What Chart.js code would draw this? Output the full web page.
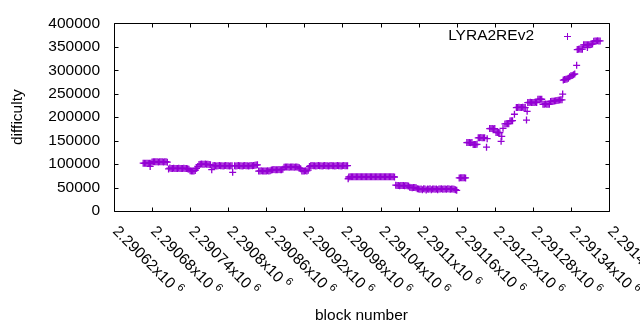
<!DOCTYPE html>
<html>
<head>
<meta charset="utf-8">
<script src="https://cdn.jsdelivr.net/npm/chart.js@4.4.1/dist/chart.umd.min.js"></script>
<style>
  html, body { margin: 0; padding: 0; background: #fff; }
</style>
</head>
<body>
<canvas id="difficultyChart" width="640" height="330"></canvas>
<script>
// block numbers and difficulty
const blocks = [
  2290666, 2290668, 2290670, 2290672, 2290674, 2290676, 2290677, 2290678,
  2290680, 2290682, 2290684, 2290686, 2290688, 2290690, 2290692, 2290694, 2290696, 2290698, 2290700, 2290702, 2290704,
  2290706,
  2290708, 2290710, 2290712, 2290714, 2290716, 2290718, 2290720, 2290722, 2290724, 2290726, 2290728, 2290730, 2290732, 2290734, 2290736, 2290738,
  2290740, 2290742, 2290744, 2290746, 2290748, 2290750, 2290752,
  2290754, 2290756, 2290758, 2290760, 2290762, 2290764, 2290766, 2290768, 2290770, 2290772, 2290774,
  2290776, 2290778, 2290780, 2290782, 2290784, 2290786, 2290788, 2290790, 2290792, 2290794, 2290796, 2290798, 2290800, 2290802, 2290804, 2290806, 2290807,
  2290810, 2290812, 2290814, 2290816, 2290818, 2290820, 2290822, 2290824, 2290826, 2290828, 2290830, 2290832, 2290834, 2290836, 2290838, 2290840, 2290842, 2290844, 2290846,
  2290848, 2290850, 2290852, 2290854, 2290856, 2290858, 2290860, 2290862, 2290864, 2290866,
  2290868, 2290870, 2290872, 2290874, 2290876, 2290878, 2290880, 2290882, 2290884, 2290886,
  2290888, 2290890, 2290892, 2290894, 2290896, 2290898, 2290900, 2290902, 2290904, 2290906, 2290908, 2290910, 2290912, 2290914,
  2290916, 2290918, 2290920, 2290922, 2290924, 2290926,
  2290928, 2290930, 2290932, 2290934, 2290936, 2290938, 2290940, 2290942, 2290944, 2290946, 2290948, 2290950, 2290952, 2290954, 2290956, 2290958,
  2290960, 2290962, 2290964, 2290966, 2290968, 2290970, 2290972, 2290974, 2290976, 2290978, 2290980, 2290982, 2290984, 2290986, 2290988,
  2290989,
  2290990, 2290992, 2290994, 2290996, 2290998, 2291000, 2291002, 2291004, 2291006, 2291008, 2291010, 2291012, 2291014, 2291016, 2291018, 2291020, 2291022, 2291024,
  2291026, 2291028, 2291030, 2291032, 2291034, 2291036, 2291038, 2291040, 2291042, 2291044, 2291046, 2291048, 2291050, 2291052, 2291054, 2291056, 2291058, 2291060, 2291062,
  2291064, 2291066, 2291068, 2291070, 2291072, 2291074, 2291076, 2291078, 2291080, 2291082, 2291084,
  2291086, 2291088, 2291090, 2291092, 2291094, 2291096,
  2291098, 2291100, 2291102, 2291104, 2291106, 2291108, 2291110, 2291112, 2291114, 2291116, 2291118, 2291120, 2291122, 2291124, 2291126, 2291128,
  2291130, 2291132, 2291134, 2291136, 2291138, 2291140, 2291142, 2291144, 2291146, 2291148, 2291150, 2291152, 2291154, 2291156, 2291158, 2291160,
  2291164, 2291166, 2291168, 2291170, 2291172, 2291174,
  2291176, 2291178, 2291180, 2291182, 2291184,
  2291186, 2291188, 2291190, 2291192,
  2291194, 2291196, 2291198, 2291200, 2291202, 2291204,
  2291207, 2291208,
  2291212, 2291214, 2291216, 2291218, 2291220,
  2291222, 2291224, 2291226, 2291228,
  2291230, 2291231, 2291233,
  2291236, 2291238, 2291240, 2291242,
  2291244, 2291246, 2291248,
  2291251,
  2291254, 2291256, 2291258, 2291260, 2291262, 2291264, 2291266, 2291268,
  2291270, 2291271,
  2291272, 2291274, 2291276, 2291278, 2291280, 2291282, 2291284, 2291286,
  2291288, 2291290, 2291292, 2291294,
  2291296, 2291298, 2291300, 2291302, 2291304, 2291306,
  2291308, 2291310, 2291312, 2291314, 2291316, 2291318, 2291320, 2291322, 2291324, 2291326,
  2291327,
  2291328, 2291330, 2291332, 2291334, 2291336, 2291338, 2291340, 2291342, 2291344, 2291346,
  2291349,
  2291350, 2291352, 2291354, 2291356, 2291358,
  2291360, 2291362, 2291364, 2291366, 2291366, 2291368, 2291370, 2291372, 2291374,
  2291376, 2291378, 2291380, 2291382, 2291384, 2291386
];

const difficulty = [
  102000, 101500, 102000, 102000, 101500, 102000, 95000, 102000,
  104500, 105000, 104800, 104800, 105000, 104500, 104800, 105000, 104800, 104500, 104800, 105000, 104000,
  89600,
  91500, 90500, 90800, 91000, 90800, 90500, 90800, 91000, 90500, 90800, 90800, 91000, 90500, 90800, 90000, 89000,
  86000, 85400, 85000, 85400, 86500, 91000, 95000,
  99000, 99500, 100000, 99500, 99500, 100000, 99500, 99500, 99000, 98500, 88100,
  96500, 96800, 96500, 96000, 96500, 96800, 96500, 96500, 96000, 96500, 96800, 96500, 96500, 96000, 96500, 96500, 82500,
  96500, 96000, 96500, 96800, 96500, 96500, 96000, 96500, 96800, 96500, 96500, 96000, 96500, 96800, 96500, 97000, 97500, 98000, 98500,
  85000, 85400, 85800, 85400, 85000, 85400, 85400, 85800, 85400, 86000,
  87500, 88100, 88500, 88100, 87800, 88100, 88500, 88100, 88000, 89000,
  93000, 93700, 94000, 93700, 93500, 93700, 94000, 93700, 93500, 93700, 94000, 93500, 92000, 90000,
  85400, 85000, 85400, 85800, 85400, 87000,
  95000, 96500, 96800, 96500, 96500, 96000, 96500, 96800, 96500, 96500, 96000, 96500, 96800, 96500, 96500, 96000,
  96500, 96800, 96500, 96500, 96000, 96500, 96800, 96500, 96500, 96000, 96500, 96800, 96500, 96500, 96500,
  68700,
  72500, 73000, 73200, 73000, 72800, 73000, 73200, 73000, 73000, 72800, 73000, 73200, 73000, 72800, 73000, 73200, 73000, 73000,
  73200, 73000, 72800, 73000, 73200, 73000, 73000, 72800, 73000, 73200, 73000, 72800, 73000, 73200, 73000, 73000, 73200, 73000, 72500,
  55000, 54500, 54200, 54000, 54200, 54500, 54200, 54000, 54200, 54000, 53500,
  50500, 50000, 49800, 50000, 50200, 49500,
  47500, 47000, 46500, 47000, 45500, 47200, 46800, 45000, 47000, 46500, 47200, 45200, 46800, 47000, 46500, 47000,
  45500, 47000, 46800, 47200, 46500, 47000, 46800, 46500, 47200, 47000, 46500, 46800, 47000, 46200, 45500, 44000,
  70500, 70800, 71000, 70800, 70800, 70500,
  145800, 146000, 145800, 145500, 145800,
  141700, 141500, 141700, 142000,
  156000, 156200, 156500, 156200, 156000, 156200,
  136000, 154200,
  175600, 175800, 175600, 175400, 175600,
  167300, 167500, 167300, 167000,
  148500, 159000, 176200,
  185500, 186000, 186200, 186000,
  192000, 192300, 192500,
  206200,
  220500, 220800, 221000, 220800, 220800, 221000, 220800, 220500,
  193700, 212500,
  231000, 231200, 231500, 231200, 231000, 231200, 231500, 231200,
  238000, 238100, 238300, 238100,
  227500, 227700, 228000, 227700, 227500, 227700,
  233500, 234000, 234000, 234500, 235000, 235500, 236000, 236500, 237000, 237000,
  249200,
  279000, 280000, 281000, 281500, 283000, 286000, 288000, 289000, 290500, 292000,
  310400,
  344000, 344500, 345000, 344500, 344800,
  354200, 354200, 354500, 354200, 348500, 354500, 354200, 355000, 356000,
  362000, 362500, 362500, 363000, 362500, 362500
];

const seriesName = 'LYRA2REv2';
const xTicks = [2290620, 2290680, 2290740, 2290800, 2290860, 2290920, 2290980,
                2291040, 2291100, 2291160, 2291220, 2291280, 2291340, 2291400];
const xTickLabels = ['2.29062', '2.29068', '2.29074', '2.2908', '2.29086', '2.29092', '2.29098',
                     '2.29104', '2.2911', '2.29116', '2.29122', '2.29128', '2.29134', '2.2914'];
const xExponent = '6';
const yTicks = [0, 50000, 100000, 150000, 200000, 250000, 300000, 350000, 400000];

const purple = '#9400d3';
const fontFamily = '"Liberation Sans", Arial, sans-serif';
const fontSize = 15.5;
const tickLen = 4;

// gnuplot style frame: border box, inward mirrored ticks, rotated x labels, key
const framePlugin = {
    id: 'frame',
    afterDraw(chart) {
        const { ctx, chartArea: a, scales: { x, y } } = chart;
        const left = Math.round(a.left) + 0.5;
        const right = Math.round(a.right) + 0.5;
        const top = Math.round(a.top) + 0.5;
        const bottom = Math.round(a.bottom) + 0.5;

        ctx.save();
        ctx.strokeStyle = '#000';
        ctx.lineWidth = 1;
        ctx.beginPath();
        ctx.rect(left, top, right - left, bottom - top);
        xTicks.forEach(v => {
            const px = Math.round(x.getPixelForValue(v)) + 0.5;
            ctx.moveTo(px, bottom); ctx.lineTo(px, bottom - tickLen);
            ctx.moveTo(px, top); ctx.lineTo(px, top + tickLen);
        });
        yTicks.forEach(v => {
            const py = Math.round(y.getPixelForValue(v)) + 0.5;
            ctx.moveTo(left, py); ctx.lineTo(left + tickLen, py);
            ctx.moveTo(right, py); ctx.lineTo(right - tickLen, py);
        });
        ctx.stroke();

        // x tick labels, rotated down to the right
        ctx.fillStyle = '#000';
        ctx.textAlign = 'left';
        ctx.textBaseline = 'middle';
        xTicks.forEach((v, i) => {
            const px = x.getPixelForValue(v);
            ctx.save();
            ctx.translate(px + 1, a.bottom + 18);
            ctx.rotate(Math.PI / 4);
            ctx.font = fontSize + 'px ' + fontFamily;
            const text = xTickLabels[i] + 'x10';
            ctx.fillText(text, 0, 0);
            const w = ctx.measureText(text).width;
            ctx.font = '11px ' + fontFamily;
            ctx.fillText(xExponent, w + 4, -5);
            ctx.restore();
        });

        // key
        ctx.font = fontSize + 'px ' + fontFamily;
        ctx.textAlign = 'right';
        ctx.fillText(seriesName, a.right - 75, a.top + 12.5);
        const kx = Math.round(a.right - 42) + 0.5;
        const ky = Math.round(a.top + 13) + 0.5;
        ctx.strokeStyle = purple;
        ctx.beginPath();
        ctx.moveTo(kx - 3.5, ky); ctx.lineTo(kx + 3.5, ky);
        ctx.moveTo(kx, ky - 3.5); ctx.lineTo(kx, ky + 3.5);
        ctx.stroke();
        ctx.restore();
    }
};

const ctx = document.getElementById('difficultyChart').getContext('2d');
new Chart(ctx, {
    type: 'scatter',
    data: {
        datasets: [{
            label: seriesName,
            data: blocks.map((b, i) => ({ x: b, y: difficulty[i] })),
            pointStyle: 'cross',
            pointRadius: 3.5,
            pointHoverRadius: 3.5,
            borderWidth: 1.3,
            borderColor: purple,
            backgroundColor: purple
        }]
    },
    options: {
        responsive: false,
        animation: false,
        events: [],
        layout: { padding: { top: 19, right: 31, left: 0, bottom: 0 } },
        plugins: {
            legend: { display: false },
            tooltip: { enabled: false }
        },
        scales: {
            x: {
                type: 'linear',
                min: 2290620,
                max: 2291400,
                grid: { display: false, drawTicks: false },
                border: { display: false },
                ticks: { display: false },
                title: {
                    display: true,
                    text: 'block number',
                    color: '#000',
                    font: { family: fontFamily, size: fontSize },
                    padding: { top: 0, bottom: 5 }
                },
                afterFit(scale) { scale.height = 119; }
            },
            y: {
                min: 0,
                max: 400000,
                grid: { display: false, drawTicks: false },
                border: { display: false },
                afterBuildTicks(scale) { scale.ticks = yTicks.map(v => ({ value: v })); },
                ticks: {
                    color: '#000',
                    padding: 14,
                    font: { family: fontFamily, size: fontSize },
                    callback: v => String(v)
                },
                title: {
                    display: true,
                    text: 'difficulty',
                    color: '#000',
                    font: { family: fontFamily, size: fontSize },
                    padding: { top: 8, bottom: 0 }
                },
                afterFit(scale) { scale.width = 114; }
            }
        }
    },
    plugins: [framePlugin]
});
</script>
</body>
</html>
